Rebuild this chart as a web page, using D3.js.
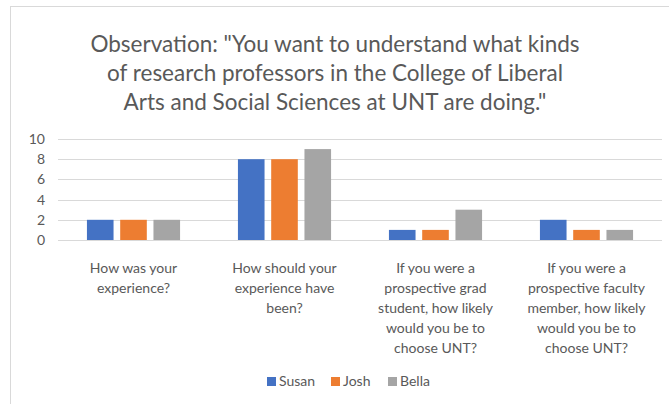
<!DOCTYPE html>
<html>
<head>
<meta charset="utf-8">
<script src="https://cdn.jsdelivr.net/npm/d3@7"></script>
<style>
  body { margin: 0; background: #fff; }
  text { font-family: Lato, "Open Sans", sans-serif; fill: #595959; }
</style>
</head>
<body>
<svg width="669" height="404"></svg>
<script>
const categories = [
    ["How was your", "experience?"],
    ["How should your", "experience have", "been?"],
    ["If you were a", "prospective grad", "student, how likely", "would you be to", "choose UNT?"],
    ["If you were a", "prospective faculty", "member, how likely", "would you be to", "choose UNT?"]
]
const series_names = ["Susan", "Josh", "Bella"]
const susan = [2, 8, 1, 2]
const josh = [2, 8, 1, 1]
const bella = [2, 9, 3, 1]
const y_ticks = [0, 2, 4, 6, 8, 10]
const title_lines = [
    "Observation: \"You want to understand what kinds",
    "of research professors in the College of Liberal",
    "Arts and Social Sciences at UNT are doing.\""
]

const colors = ["#4472C4", "#ED7D31", "#A5A5A5"]
const values = [susan, josh, bella]

const svg = d3.select("svg")

// chart frame
svg.append("rect")
    .attr("x", 10.5).attr("y", 6.5)
    .attr("width", 700).attr("height", 420)
    .attr("fill", "white").attr("stroke", "#D9D9D9")

// title
svg.append("g").selectAll("text")
    .data(title_lines)
    .enter()
    .append("text")
    .attr("x", 335)
    .attr("y", (d, i) => 52 + i * 29)
    .attr("text-anchor", "middle")
    .style("font-size", "22.5px")
    .text(d => d)

const x = d3.scaleBand().domain(d3.range(categories.length)).range([58, 662])
const x_inner = d3.scaleBand().domain(series_names).range([0, x.bandwidth()]).paddingInner(0.2).paddingOuter(0.87)
const y = d3.scaleLinear().domain([0, 10]).range([240, 139])

// gridlines
svg.append("g").selectAll("line")
    .data(y_ticks)
    .enter()
    .append("line")
    .attr("x1", 58).attr("x2", 662)
    .attr("y1", d => Math.round(y(d)) + 0.5)
    .attr("y2", d => Math.round(y(d)) + 0.5)
    .attr("stroke", "#D9D9D9")
    .attr("stroke-width", 1)

// y tick labels
svg.append("g").selectAll("text")
    .data(y_ticks)
    .enter()
    .append("text")
    .attr("x", 45)
    .attr("y", d => y(d) + 5)
    .attr("text-anchor", "end")
    .style("font-size", "14px")
    .text(d => d)

// bars
series_names.forEach((name, s) => {
    svg.append("g").selectAll("rect")
        .data(values[s])
        .enter()
        .append("rect")
        .attr("x", (d, i) => x(i) + x_inner(name))
        .attr("y", d => y(d))
        .attr("width", x_inner.bandwidth())
        .attr("height", d => y(0) - y(d))
        .attr("fill", colors[s])
})

// category labels
const cat = svg.append("g").selectAll("text")
    .data(categories)
    .enter()
    .append("text")
    .attr("text-anchor", "middle")
    .style("font-size", "14px")

cat.selectAll("tspan")
    .data((d, i) => d.map(line => ({ line, i })))
    .enter()
    .append("tspan")
    .attr("x", d => x(d.i) + x.bandwidth() / 2)
    .attr("y", (d, j) => 273 + j * 20)
    .text(d => d.line)

// legend
const legend_x = [267, 331, 388]
const legend = svg.append("g").selectAll("g")
    .data(series_names)
    .enter()
    .append("g")
    .attr("transform", (d, i) => `translate(${legend_x[i]},377)`)

legend.append("rect")
    .attr("width", 9).attr("height", 9)
    .attr("fill", (d, i) => colors[i])

legend.append("text")
    .attr("x", 12)
    .attr("y", 9)
    .style("font-size", "14px")
    .text(d => d)
</script>
</body>
</html>
